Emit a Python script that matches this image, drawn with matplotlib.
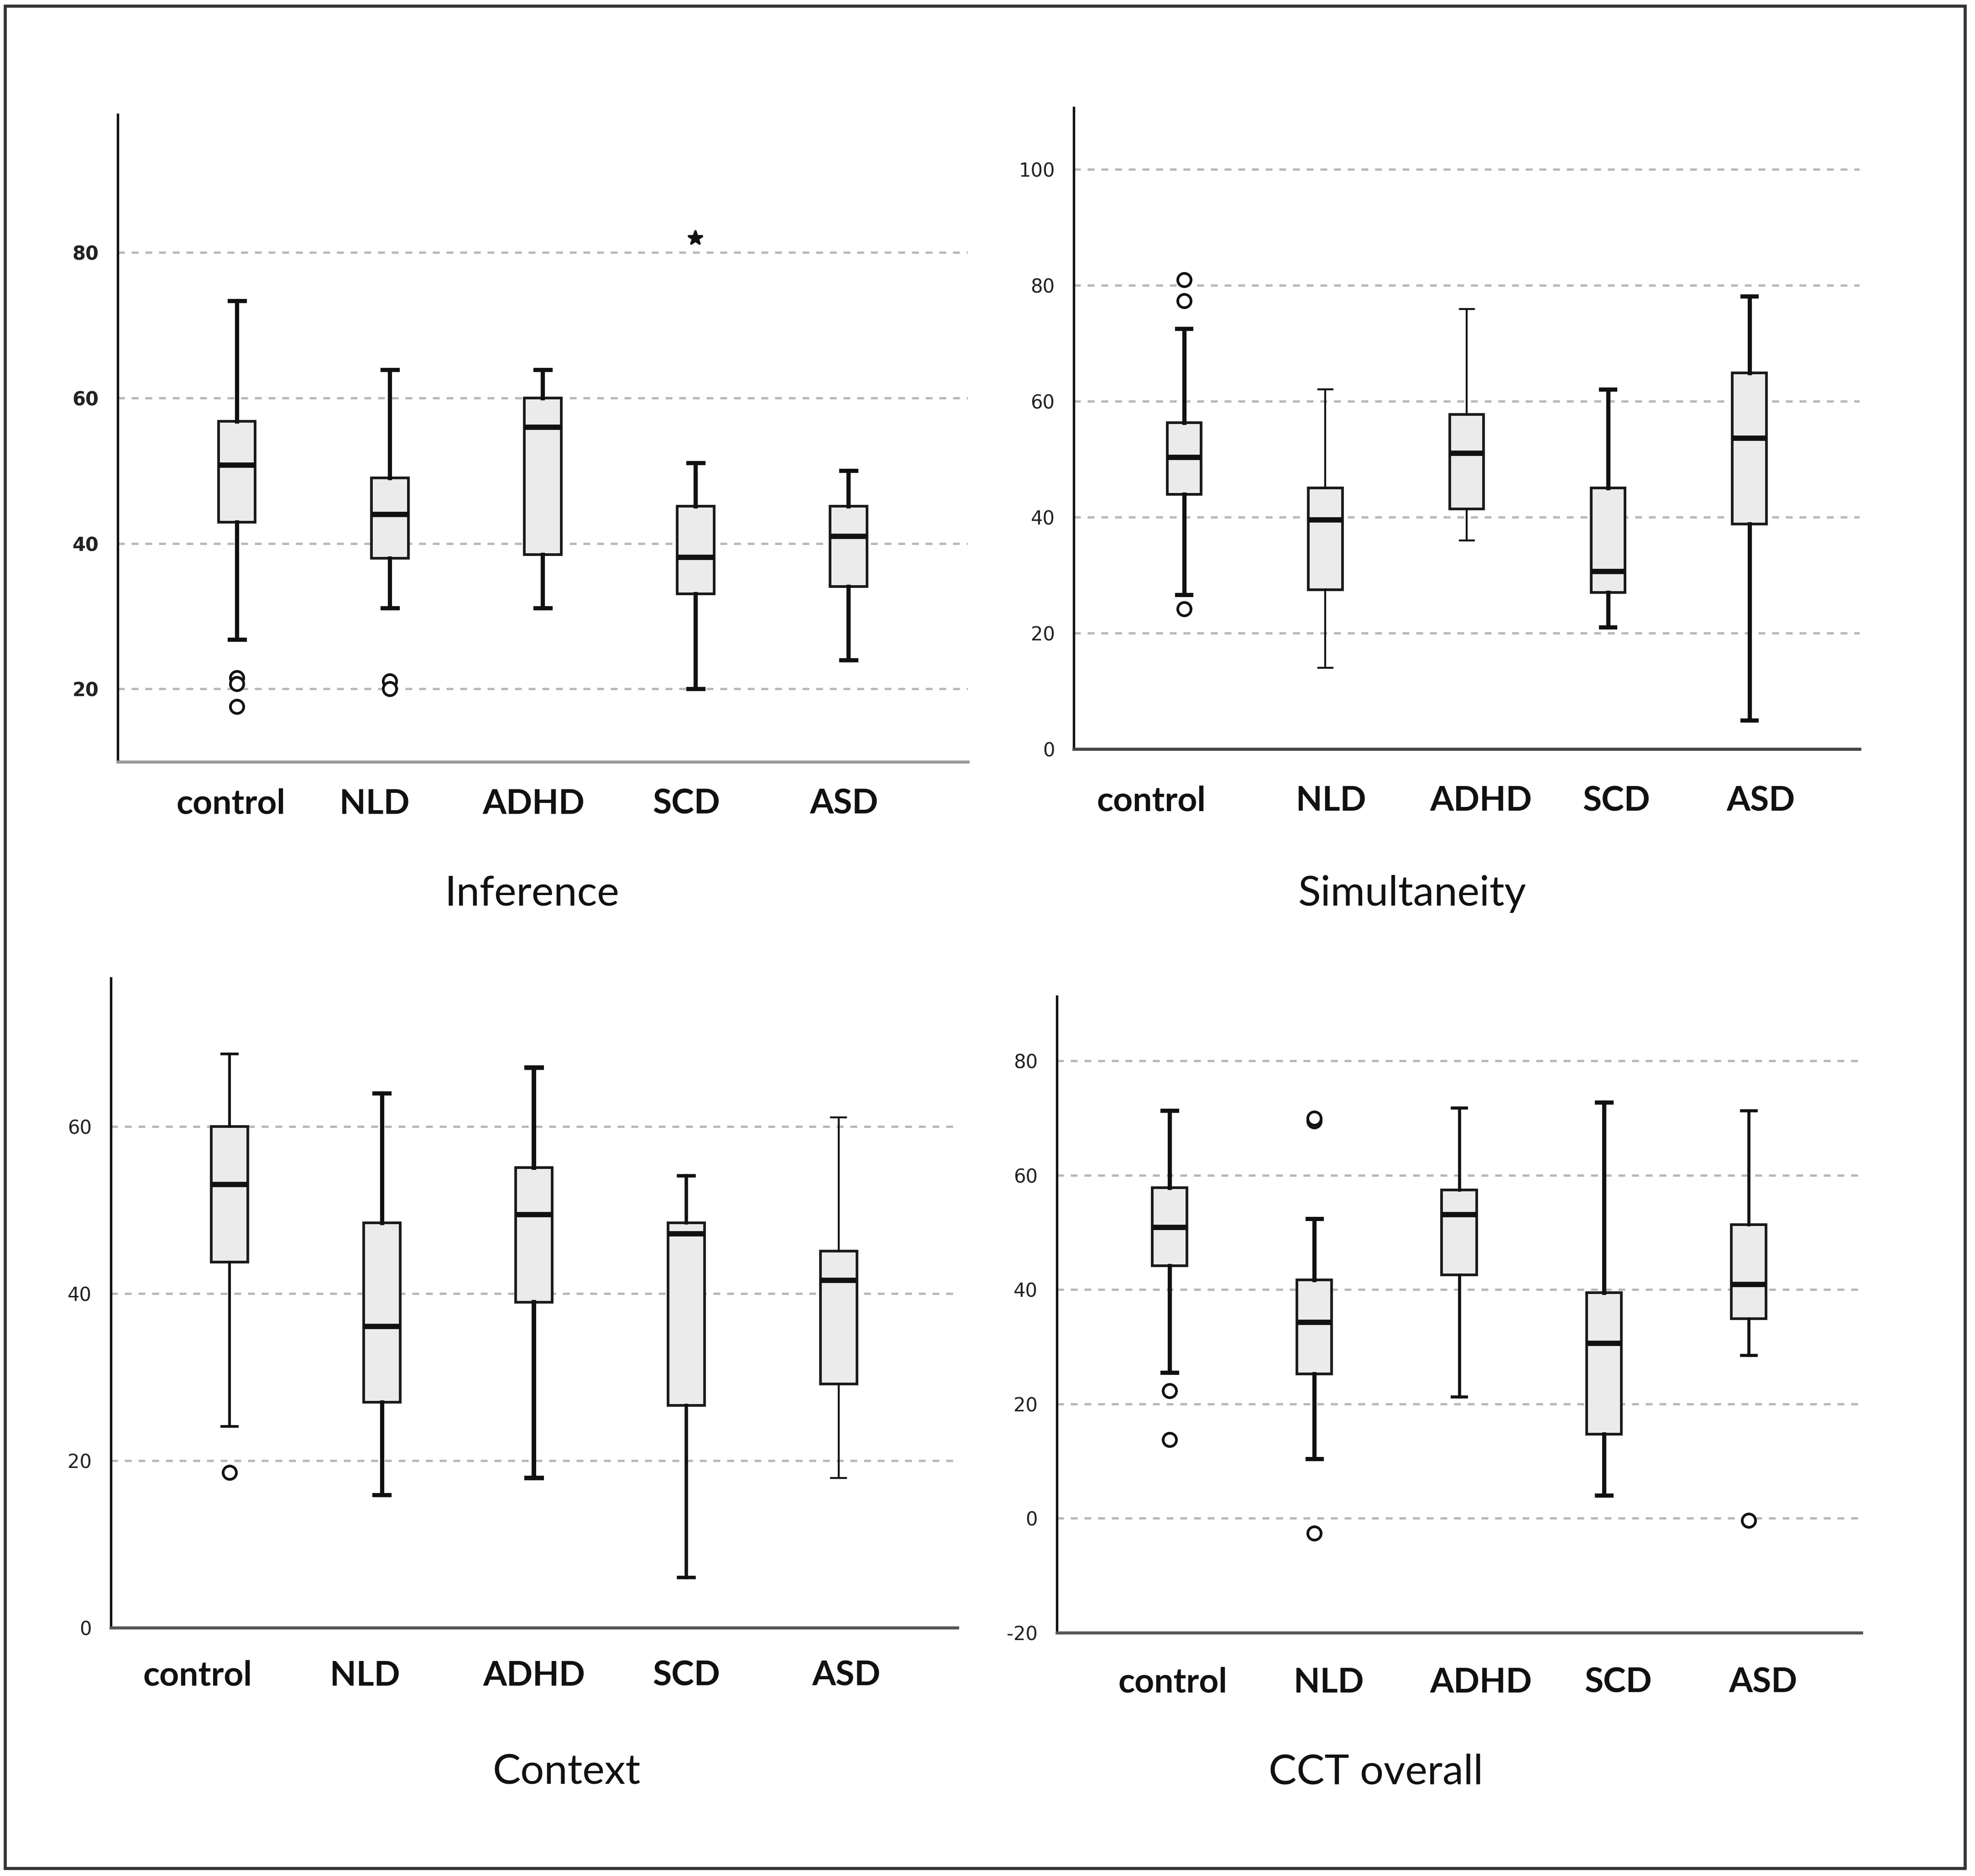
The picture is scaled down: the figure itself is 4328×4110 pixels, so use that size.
import matplotlib
matplotlib.use("Agg")
import matplotlib.pyplot as plt
from matplotlib.patches import Rectangle

groups = ["control", "NLD", "ADHD", "SCD", "ASD"]

# Inference
inf_whishi = [73.4, 63.9, 63.9, 51.1, 50.0]
inf_q3 = [56.8, 49.0, 60.0, 45.1, 45.1]
inf_med = [50.8, 44.0, 56.0, 38.1, 41.0]
inf_q1 = [42.9, 38.0, 38.5, 33.1, 34.1]
inf_whislo = [26.8, 31.1, 31.1, 20.0, 24.0]
inf_fliers = [[21.5, 20.7, 17.6], [21.1, 20.0], [], [], []]
inf_extremes = [[], [], [], [82.0], []]

# Simultaneity
sim_whishi = [72.5, 62.0, 75.9, 62.0, 78.1]
sim_q3 = [56.3, 45.0, 57.7, 45.0, 64.9]
sim_med = [50.3, 39.5, 51.0, 30.6, 53.6]
sim_q1 = [43.9, 27.5, 41.4, 27.0, 38.8]
sim_whislo = [26.6, 14.0, 36.0, 21.0, 5.0]
sim_fliers = [[80.9, 77.3, 24.2], [], [], [], []]
sim_extremes = [[], [], [], [], []]

# Context
ctx_whishi = [68.7, 64.0, 67.1, 54.1, 61.1]
ctx_q3 = [60.0, 48.5, 55.1, 48.5, 45.1]
ctx_med = [53.1, 36.1, 49.5, 47.2, 41.6]
ctx_q1 = [43.8, 27.0, 39.0, 26.6, 29.2]
ctx_whislo = [24.1, 15.9, 17.9, 6.0, 17.9]
ctx_fliers = [[18.6], [], [], [], []]
ctx_extremes = [[], [], [], [], []]

# CCT overall
cct_whishi = [71.3, 52.4, 71.8, 72.8, 71.3]
cct_q3 = [57.8, 41.7, 57.4, 39.5, 51.4]
cct_med = [50.9, 34.3, 53.1, 30.6, 40.9]
cct_q1 = [44.2, 25.3, 42.6, 14.7, 34.9]
cct_whislo = [25.5, 10.4, 21.3, 4.0, 28.5]
cct_fliers = [[22.3, 13.8], [69.5, 70.0, -2.6], [], [], [-0.4]]
cct_extremes = [[], [], [], [], []]

titles = ["Inference", "Simultaneity", "Context", "CCT overall"]
yticks = [[20, 40, 60, 80], [0, 20, 40, 60, 80, 100], [0, 20, 40, 60], [-20, 0, 20, 40, 60, 80]]
ylims = [(10, 99), (0, 110.6), (0, 77.8), (-20, 91.3)]

panels = [
    (inf_whishi, inf_q3, inf_med, inf_q1, inf_whislo, inf_fliers, inf_extremes),
    (sim_whishi, sim_q3, sim_med, sim_q1, sim_whislo, sim_fliers, sim_extremes),
    (ctx_whishi, ctx_q3, ctx_med, ctx_q1, ctx_whislo, ctx_fliers, ctx_extremes),
    (cct_whishi, cct_q3, cct_med, cct_q1, cct_whislo, cct_fliers, cct_extremes),
]

# layout (figure fractions): left, bottom, width, height
rects = [
    (0.0596, 0.594, 0.490 - 0.0596, 0.939 - 0.594),
    (0.5437, 0.6007, 0.9416 - 0.5437, 0.9426 - 0.6007),
    (0.0561, 0.1324, 0.4847 - 0.0561, 0.4786 - 0.1324),
    (0.5351, 0.1297, 0.9425 - 0.5351, 0.4689 - 0.1297),
]
title_pos = [(0.2694, 0.5234), (0.715, 0.5234), (0.287, 0.0552), (0.6967, 0.0552)]
# horizontal shift of category labels relative to their box (in category units)
label_shift = [
    [-0.04, -0.10, -0.06, -0.06, -0.03],
    [-0.23, 0.04, 0.10, 0.06, 0.08],
    [-0.21, -0.11, 0.0, 0.0, 0.05],
    [0.02, 0.10, 0.15, 0.10, 0.10],
]
label_pad = [14, 19, 17, 18]
whisker_lw = [
    [2.2, 2.2, 2.2, 2.2, 2.2],
    [2.2, 1.0, 1.0, 2.2, 2.2],
    [1.4, 2.2, 2.4, 1.8, 1.0],
    [2.2, 2.2, 1.6, 2.2, 1.6],
]
tick_weight = ["bold", "normal", "normal", "normal"]
bottom_spine_color = ["#9a9a9a", "#444444", "#555555", "#555555"]

fig = plt.figure(figsize=(4328 / 300, 4110 / 300), dpi=300)
fig.patch.set_facecolor("white")

label_font = "Lato"

for i, (data, rect) in enumerate(zip(panels, rects)):
    whishi, q3, med, q1, whislo, fliers, extremes = data
    ax = fig.add_axes(rect)
    stats = []
    for j in range(len(groups)):
        stats.append(dict(med=med[j], q1=q1[j], q3=q3[j], whislo=whislo[j],
                          whishi=whishi[j], fliers=fliers[j], label=groups[j]))
    positions = list(range(1, len(groups) + 1))
    res = ax.bxp(stats, positions=positions, widths=0.24, patch_artist=True,
                 showfliers=True,
                 boxprops=dict(facecolor="#ebebeb", edgecolor="#1a1a1a", linewidth=1.4),
                 medianprops=dict(color="#111111", linewidth=2.8, solid_capstyle="butt"),
                 whiskerprops=dict(color="#111111", linewidth=2.0),
                 capprops=dict(color="#111111", linewidth=2.0),
                 capwidths=0.1,
                 flierprops=dict(marker="o", markerfacecolor="white",
                                 markeredgecolor="#111111", markersize=7,
                                 markeredgewidth=1.4, linestyle="none"))
    for j in range(len(groups)):
        lw = whisker_lw[i][j]
        for k in (2 * j, 2 * j + 1):
            res["whiskers"][k].set_linewidth(lw)
            res["caps"][k].set_linewidth(lw)
    for j, ex in enumerate(extremes):
        if ex:
            ax.plot([positions[j]] * len(ex), ex, linestyle="none", marker="*",
                    color="#111111", markersize=8)

    ax.set_xlim(0.22, 5.78)
    ax.set_ylim(*ylims[i])
    ax.set_yticks(yticks[i])
    ax.set_yticklabels([str(t) for t in yticks[i]], fontfamily="DejaVu Sans",
                       fontsize=10, color="#222222", fontweight=tick_weight[i])
    ax.set_xticks([p + s for p, s in zip(positions, label_shift[i])])
    ax.set_xticklabels(groups, fontfamily=label_font, fontweight="bold",
                       fontsize=18, color="#111111")
    ax.tick_params(axis="both", length=0)
    ax.tick_params(axis="x", pad=label_pad[i])
    ax.tick_params(axis="y", pad=10)
    ax.yaxis.grid(True, linestyle=(0, (3, 3)), color="#b8b8b8", linewidth=1.2)
    ax.xaxis.grid(False)
    ax.set_axisbelow(True)
    for s in ("top", "right"):
        ax.spines[s].set_visible(False)
    ax.spines["left"].set_color("#111111")
    ax.spines["left"].set_linewidth(1.3)
    ax.spines["bottom"].set_color(bottom_spine_color[i])
    ax.spines["bottom"].set_linewidth(1.6)

    fig.text(title_pos[i][0], title_pos[i][1], titles[i], ha="center", va="center",
             fontsize=22, fontfamily=label_font, color="#111111")

fig.patches.append(Rectangle((0.0025, 0.0041), 0.9925, 0.9927, transform=fig.transFigure,
                             fill=False, edgecolor="#333333", linewidth=1.6))

fig.savefig("out.png", dpi=300)
